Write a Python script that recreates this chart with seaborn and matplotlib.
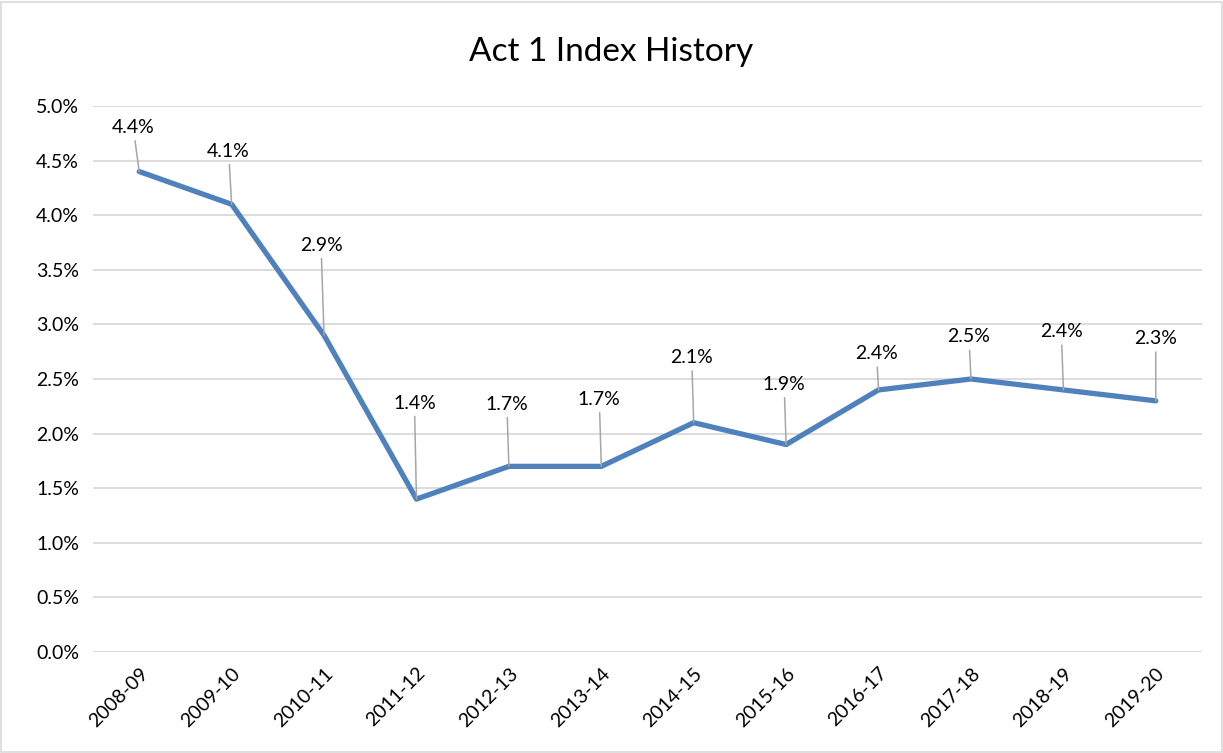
import matplotlib
matplotlib.use("Agg")
import matplotlib.pyplot as plt
import seaborn as sns
import pandas as pd
from matplotlib.ticker import FuncFormatter, MultipleLocator
from matplotlib.patches import Rectangle

years = ["2008-09", "2009-10", "2010-11", "2011-12", "2012-13", "2013-14",
         "2014-15", "2015-16", "2016-17", "2017-18", "2018-19", "2019-20"]
index_pct = [4.4, 4.1, 2.9, 1.4, 1.7, 1.7, 2.1, 1.9, 2.4, 2.5, 2.4, 2.3]

# label offsets (pixels) relative to points — styling only
label_dx = [-6, -3, -3, -2, -2, -2, -2, -2, -2, -2, -2, 0]
label_dy = [44, 53, 90, 96, 62, 67, 65, 60, 36, 42, 58, 62]

df = pd.DataFrame({"year": years, "value": index_pct})
df["x"] = range(len(years))

sns.set_theme(style="white")
plt.rcParams["font.family"] = ["Lato", "DejaVu Sans"]
plt.rcParams["text.color"] = "black"

fig = plt.figure(figsize=(12.23, 7.53), dpi=100)
ax = fig.add_axes([93/1223, 1-652/753, (1202-93)/1223, (652-106)/753])

sns.lineplot(data=df, x="x", y="value", ax=ax, color="#4F81BD", linewidth=3.8,
             solid_capstyle="round", solid_joinstyle="round")

ax.set_xlim(-0.5, len(years) - 0.5)
ax.set_ylim(0, 5.0)
ax.yaxis.set_major_locator(MultipleLocator(0.5))
ax.yaxis.set_major_formatter(FuncFormatter(lambda v, p: f"{v:.1f}%"))
ax.set_xticks(df["x"])
ax.set_xticklabels(years, rotation=45, ha="right", rotation_mode="anchor", fontsize=14)
for t in ax.get_yticklabels():
    t.set_fontsize(14)
ax.tick_params(axis="both", length=0, pad=9, colors="black")
ax.tick_params(axis="y", pad=10)
ax.grid(axis="y", color="#D9D9D9", linewidth=1.3)
ax.grid(axis="x", visible=False)
for s in ax.spines.values():
    s.set_visible(False)
ax.set_xlabel("")
ax.set_ylabel("")

for i, v in enumerate(index_pct):
    ax.annotate(f"{v:.1f}%", xy=(i, v), xytext=(label_dx[i], label_dy[i]),
                textcoords="offset pixels", ha="center", va="center", fontsize=14,
                color="black",
                arrowprops=dict(arrowstyle="-", color="#A6A6A6", lw=1.1,
                                shrinkA=1, shrinkB=0))

fig.text(0.5, 1 - 52/753, "Act 1 Index History", ha="center", va="center",
         fontsize=24, color="black")

fig.patches.append(Rectangle((0.001, 0.001), 0.998, 0.997, transform=fig.transFigure,
                             fill=False, edgecolor="#D9D9D9", linewidth=1.2))

fig.savefig("out.png", dpi=100, facecolor="white")
